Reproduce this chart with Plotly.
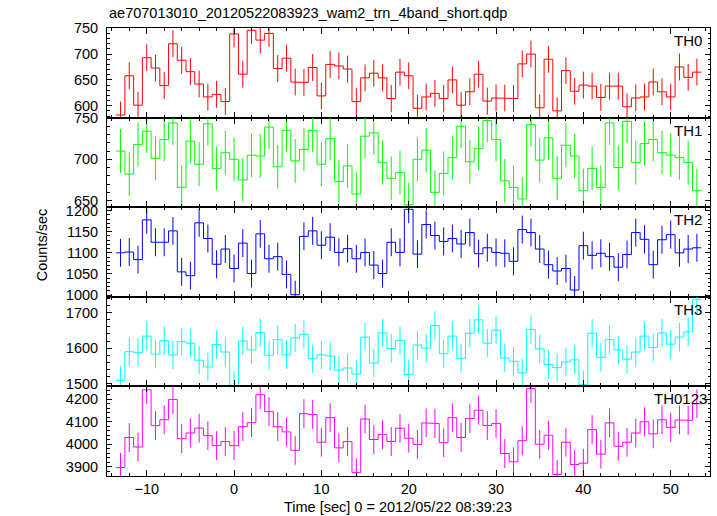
import plotly.graph_objects as go
from plotly.subplots import make_subplots

# ---- data ----
time = list(range(-13, 54))

th0 = [582, 658, 601, 693, 673, 639, 720, 688, 666, 642, 617, 622, 608,
       739, 661, 746, 727, 740, 672, 692, 646, 645, 674, 619, 680, 677, 671, 608, 654, 663, 654, 614, 665,
       658, 595, 617, 624, 614, 650, 601, 627, 661, 609, 615, 615, 614, 681, 700, 596, 690, 590, 668, 628,
       640, 638, 616, 638, 638, 598, 615, 617, 646, 627, 617, 675, 655, 665]
th1 = [710, 682, 718, 734, 701, 724, 744, 666, 722, 694, 743, 689, 708,
       700, 675, 705, 704, 739, 691, 735, 698, 712, 735, 694, 725, 673, 692, 658, 728, 732, 696, 677, 684,
       645, 700, 711, 660, 683, 702, 740, 697, 713, 747, 724, 674, 666, 652, 742, 699, 726, 677, 717, 704,
       662, 689, 666, 744, 690, 746, 696, 719, 724, 708, 705, 702, 696, 662]
th2 = [1100, 1102, 1084, 1178, 1125, 1125, 1152, 1055, 1046, 1171, 1134, 1073, 1109,
       1063, 1123, 1051, 1145, 1086, 1091, 1049, 1001, 1139, 1152, 1118, 1137, 1101, 1110, 1086, 1101, 1071,
       1051, 1125, 1101,
       1203, 1097, 1167, 1141, 1127, 1134, 1121, 1148, 1098, 1112, 1101, 1099, 1080, 1155, 1148, 1109, 1072,
       1057, 1063, 1012, 1117, 1094, 1099, 1091, 1066, 1096, 1148, 1132, 1072, 1131, 1143, 1100, 1109, 1112]
th3 = [1509, 1590, 1587, 1634, 1583, 1621, 1581, 1618, 1614, 1566, 1547, 1610, 1589,
       1495, 1620, 1595, 1644, 1580, 1624, 1581, 1629, 1639, 1570, 1581, 1578, 1538, 1544, 1527, 1631, 1558,
       1643, 1599, 1622,
       1526, 1609, 1600, 1664, 1584, 1634, 1571, 1642, 1680, 1614, 1651, 1572, 1563, 1530, 1653, 1598, 1554,
       1545, 1561, 1567, 1497, 1642, 1574, 1624, 1595, 1569, 1589, 1634, 1602, 1643, 1611, 1631, 1646, 1738]
th0123 = [3897, 4030, 3988, 4242, 4083, 4109, 4199, 4025, 4050, 4072, 4038, 3994, 4012,
          3994, 4078, 4096, 4220, 4145, 4078, 4055, 3973, 4136, 4132, 4009, 4118, 3984, 4012, 3874, 4112,
          4021, 4043, 4012, 4071,
          4027, 3999, 4095, 4092, 4007, 4118, 4030, 4114, 4151, 4083, 4092, 3959, 3922, 4016, 4247, 4000,
          4040, 3866, 4009, 3910, 3916, 4065, 3956, 4095, 3991, 4009, 4050, 4100, 4046, 4109, 4075, 4108,
          4106, 4180]

panel_names = ["TH0", "TH1", "TH2", "TH3", "TH0123"]
panel_values = [th0, th1, th2, th3, th0123]
panel_errors = [26, 26.5, 33, 40, 64]          # error-bar half lengths
panel_colors = ["#ff0000", "#00ff00", "#0000ff", "#00ffff", "#ff00ff"]
panel_ranges = [[577, 750.5], [642, 750.5], [996, 1208], [1492, 1745], [3859, 4257]]
panel_ticks = [[600, 650, 700, 750], [650, 700, 750], [1000, 1050, 1100, 1150, 1200],
               [1500, 1600, 1700], [3900, 4000, 4100, 4200]]
panel_minor = [10, 10, 10, 20, 20]
bin_width = 1.0

title_text = "ae707013010_20120522083923_wam2_trn_4band_short.qdp"
xlabel = "Time [sec] 0 = 2012/05/22 08:39:23"
ylabel = "Counts/sec"

FONT = "Liberation Sans, Arial, Helvetica, sans-serif"
FS = 14.5

fig = make_subplots(rows=5, cols=1, shared_xaxes=True, vertical_spacing=0)

for i, (name, vals, err, col) in enumerate(zip(panel_names, panel_values, panel_errors, panel_colors)):
    r = i + 1
    xs, ys = [], []
    for t, v in zip(time, vals):
        xs += [t - bin_width / 2, t + bin_width / 2]
        ys += [v, v]
    fig.add_trace(go.Scatter(x=xs, y=ys, mode="lines", line=dict(color=col, width=1),
                             showlegend=False, hoverinfo="skip"), row=r, col=1)
    fig.add_trace(go.Scatter(x=time, y=vals, mode="markers",
                             marker=dict(size=1, color=col, opacity=0),
                             error_y=dict(type="constant", value=err, color=col, thickness=1, width=0),
                             showlegend=False), row=r, col=1)
    fig.update_yaxes(row=r, col=1, range=panel_ranges[i], tickvals=panel_ticks[i],
                     ticks="inside", ticklen=5, tickcolor="black", tickwidth=1,
                     minor=dict(dtick=panel_minor[i], ticks="inside", ticklen=2.5, tickcolor="black"),
                     showline=True, linecolor="black", linewidth=1, mirror="ticks",
                     showgrid=False, zeroline=False,
                     tickfont=dict(family=FONT, size=FS, color="black"), ticklabelstandoff=5)
    fig.add_annotation(text=name, xref="paper", yref=f"y{'' if r == 1 else r} domain",
                       x=1, y=1, xanchor="right", yanchor="top",
                       xshift=-6 if name != "TH0123" else -1, yshift=-2, showarrow=False,
                       font=dict(family=FONT, size=15, color="black"))

fig.update_xaxes(range=[-14.55, 54.5], tick0=0, dtick=10,
                 ticks="inside", ticklen=6, tickcolor="black", tickwidth=1,
                 minor=dict(dtick=2, ticks="inside", ticklen=3, tickcolor="black"),
                 showline=True, linecolor="black", linewidth=1, mirror="ticks",
                 showgrid=False, zeroline=False,
                 tickfont=dict(family=FONT, size=FS, color="black"))

fig.add_annotation(text=title_text, xref="paper", yref="paper", x=0, y=1,
                   xanchor="left", yanchor="middle", yshift=15, showarrow=False,
                   font=dict(family=FONT, size=FS, color="black"))
fig.add_annotation(text=xlabel, xref="paper", yref="paper", x=0.4826, y=0,
                   xanchor="center", yanchor="middle", yshift=-31, showarrow=False,
                   font=dict(family=FONT, size=FS, color="black"))
fig.add_annotation(text=ylabel, xref="paper", yref="paper", x=0, y=0.515, textangle=-90,
                   xanchor="center", yanchor="middle", xshift=-65, showarrow=False,
                   font=dict(family=FONT, size=FS, color="black"))

fig.update_layout(width=717, height=516, margin=dict(l=107, r=7, t=28, b=40),
                  paper_bgcolor="white", plot_bgcolor="white", showlegend=False,
                  font=dict(family=FONT, size=FS, color="black"))

fig.write_html("out.html", config={"displayModeBar": False},
               post_script="document.body.style.margin='0';document.body.style.padding='0';"
                           "document.body.style.overflow='hidden';")
